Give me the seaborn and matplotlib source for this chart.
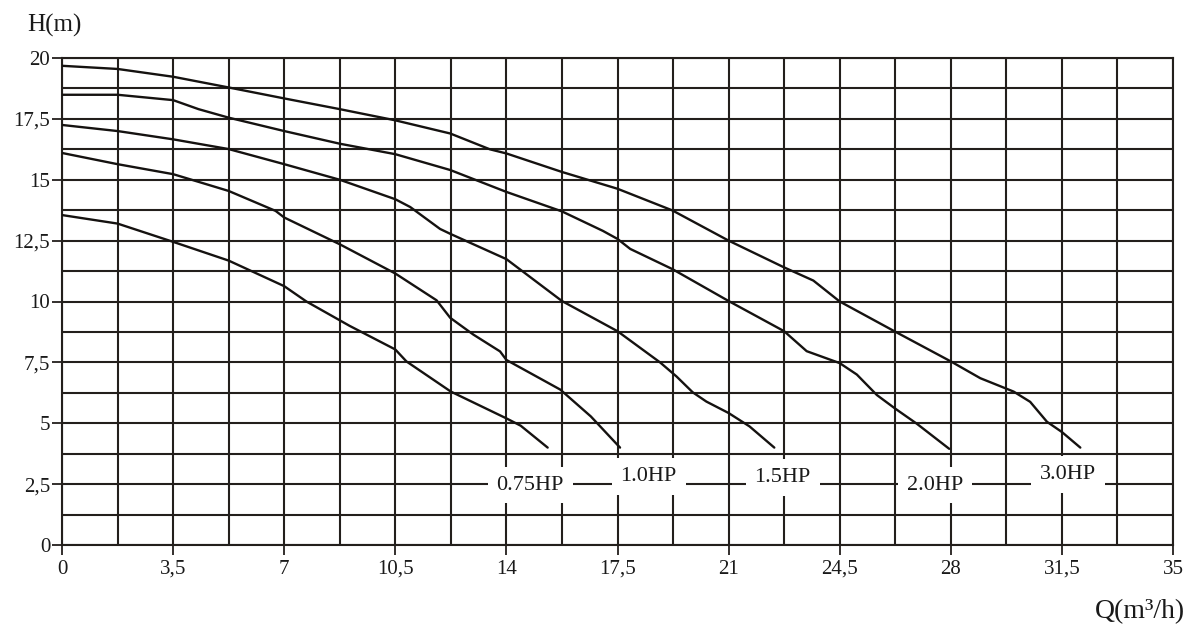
import numpy as np
import pandas as pd
import matplotlib
matplotlib.use("Agg")
import matplotlib.pyplot as plt
from matplotlib.ticker import MultipleLocator, FixedLocator
import seaborn as sns

# ---- data ----
models = ["0.75HP", "1.0HP", "1.5HP", "2.0HP", "3.0HP"]

q_075 = [0, 1.75, 3.5, 5.25, 7, 7.7, 9.06, 10.5, 10.85, 12.25, 14, 14.45, 15.3]
h_075 = [13.55, 13.2, 12.45, 11.68, 10.63, 10.0, 9.0, 8.03, 7.54, 6.3, 5.2, 4.9, 4.0]

q_10 = [0, 1.75, 3.5, 5.25, 6.73, 7, 8.75, 10.5, 11.8, 12.23, 12.96, 13.8, 14,
        15.7, 16.66, 17.58]
h_10 = [16.1, 15.64, 15.23, 14.54, 13.72, 13.45, 12.35, 11.15, 10.05, 9.33, 8.64,
        7.95, 7.6, 6.38, 5.28, 4.0]

q_15 = [0, 1.75, 3.5, 5.25, 7, 8.75, 10.5, 10.97, 11.91, 12.23, 14, 15.75, 17.5,
        18.84, 19.36, 19.87, 20.3, 21, 21.66, 22.44]
h_15 = [17.25, 17.0, 16.66, 16.26, 15.64, 15.0, 14.2, 13.88, 12.98, 12.78, 11.74,
        10.02, 8.78, 7.5, 6.92, 6.27, 5.89, 5.42, 4.87, 4.0]

q_20 = [0, 1.75, 3.5, 4.3, 5.25, 7, 8.75, 10.5, 12.23, 14, 15.75, 17.04, 17.5,
        17.9, 19.23, 21, 22.75, 23.46, 24.5, 25.04, 25.67, 26.25, 26.93, 27.95]
h_20 = [18.49, 18.49, 18.27, 17.9, 17.55, 17.0, 16.48, 16.05, 15.4, 14.5, 13.7,
        12.9, 12.57, 12.16, 11.33, 10.02, 8.78, 7.96, 7.47, 7.0, 6.16, 5.6, 4.98, 3.95]

q_30 = [0, 1.75, 3.5, 5.25, 7, 8.75, 10.5, 12.23, 13.48, 14, 15.75, 17.5, 19.23,
        21, 22.75, 23.67, 24.5, 26.25, 28, 28.93, 29.98, 30.5, 31.03, 31.5, 32.08]
h_30 = [19.68, 19.55, 19.23, 18.79, 18.34, 17.9, 17.44, 16.9, 16.25, 16.08, 15.32,
        14.63, 13.74, 12.5, 11.4, 10.86, 10.0, 8.76, 7.54, 6.85, 6.3, 5.88, 5.06,
        4.64, 4.0]

x_ticks = [0, 3.5, 7, 10.5, 14, 17.5, 21, 24.5, 28, 31.5, 35]
x_tick_labels = ["0", "3,5", "7", "10,5", "14", "17,5", "21", "24,5", "28", "31,5", "35"]
y_ticks = [0, 2.5, 5, 7.5, 10, 12.5, 15, 17.5, 20]
y_tick_labels = ["0", "2,5", "5", "7,5", "10", "12,5", "15", "17,5", "20"]

# label anchor positions (layout)
label_pos = [(14.75, 2.46), (18.48, 2.80), (22.7, 2.76), (27.5, 2.46), (31.7, 2.88)]

series_q = [q_075, q_10, q_15, q_20, q_30]
series_h = [h_075, h_10, h_15, h_20, h_30]
frames = [pd.DataFrame({"Q": q, "H": h, "model": m})
          for q, h, m in zip(series_q, series_h, models)]
df = pd.concat(frames, ignore_index=True)

# ---- styling ----
sns.set_theme(style="white")
plt.rcParams["font.family"] = ["Liberation Serif", "DejaVu Serif"]
ink = "#231f1c"
txt = "#1a1a1a"

fig = plt.figure(figsize=(11.93, 6.30), dpi=100)
ax = fig.add_axes([62 / 1193, 1 - 545 / 630, (1173 - 62) / 1193, (545 - 58) / 630])

sns.lineplot(data=df, x="Q", y="H", units="model", estimator=None, sort=False,
             color="#151210", linewidth=1.7, ax=ax, zorder=3)

ax.set_xlim(0, 35)
ax.set_ylim(0, 20)
ax.set_xticks(x_ticks)
ax.set_xticklabels(x_tick_labels)
ax.set_yticks(y_ticks)
ax.set_yticklabels(y_tick_labels)
ax.xaxis.set_minor_locator(MultipleLocator(1.75))
ax.yaxis.set_minor_locator(MultipleLocator(1.25))
ax.grid(True, which="both", color=ink, linewidth=1.5)
ax.set_axisbelow(True)
ax.tick_params(which="major", direction="out", length=7.5, width=1.3, color=ink,
               labelsize=15, labelcolor=txt, bottom=True, left=True)
ax.tick_params(axis="y", which="major", pad=1)
ax.tick_params(axis="x", which="major", pad=3)
ax.tick_params(which="minor", length=0)
for s in ax.spines.values():
    s.set_color(ink)
    s.set_linewidth(1.5)
ax.set_xlabel("")
ax.set_ylabel("")

for (x, y), m in zip(label_pos, models):
    ax.text(x, y, m, ha="center", va="center", fontsize=16, color=txt,
            zorder=4, bbox=dict(boxstyle="square,pad=0.4", facecolor="white",
                                edgecolor="none"))

fig.text(54 / 1193, 1 - 25 / 630, "H(m)", ha="center", va="center",
         fontsize=18, color=txt)
fig.text(1185 / 1193, 1 - 612 / 630, "Q(m\u00b3/h)", ha="right", va="center",
         fontsize=20, color=txt)

fig.savefig("out.png", dpi=100, facecolor="white")
